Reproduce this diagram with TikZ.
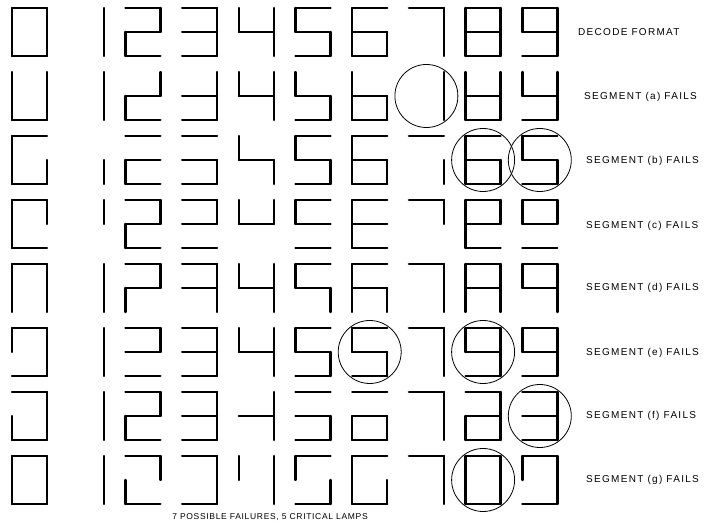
\documentclass[tikz,border=0pt]{standalone}
\usepackage{fontspec}
\setmainfont{Liberation Sans}
\newfontfamily\lblfont[LetterSpace=13]{Liberation Sans}
\newfontfamily\notefont[LetterSpace=8]{Liberation Sans}
\usepackage{tikz}
\usetikzlibrary{positioning}
\tikzset{
  lamp/.style ={line width=2.4pt, line cap=round, line join=round},
  crit/.style ={line width=0.8pt},
  lbl/.style  ={anchor=west, inner sep=0pt, font=\lblfont\fontsize{10}{12}\selectfont},
  note/.style ={inner sep=0pt, font=\notefont\fontsize{8.5}{10}\selectfont},
}
% segment end points in one 35 x 48 cell (a top, b/c right, d bottom, e/f left, g middle)
\def\lampsega{0/0/35/0}
\def\lampsegb{35/0/35/24}
\def\lampsegc{35/24/35/48}
\def\lampsegd{0/48/35/48}
\def\lampsege{0/24/0/48}
\def\lampsegf{0/0/0/24}
\def\lampsegg{0/24/35/24}
\def\drawseg#1/#2/#3/#4\relax{\draw[lamp] (#1,#2) -- (#3,#4);}

\begin{document}
\begin{tikzpicture}[x=1pt, y=-1pt]
  \useasboundingbox (0,0) rectangle (713,526);
  % one row per failing segment, x = no failure
  \foreach \r/\fail in {0/x,1/a,2/b,3/c,4/d,5/e,6/f,7/g}{
    \foreach \d/\segs in {0/{a,b,c,d,e,f}, 1/{b,c}, 2/{a,b,g,e,d}, 3/{a,b,g,c,d},
                          4/{f,g,b,c}, 5/{a,f,g,c,d}, 6/{a,f,g,e,c,d}, 7/{a,b,c},
                          8/{a,b,c,d,e,f,g}, 9/{a,b,c,d,f,g}}{
      \begin{scope}[shift={({12+56.7*\d},{8+64*\r})}]
        \foreach \sg in \segs {\ifx\sg\fail\else
          \expandafter\expandafter\expandafter\drawseg\csname lampseg\sg\endcsname\relax\fi}
      \end{scope}
    }
  }
  % critical lamps
  \foreach \r/\d in {1/7,2/8,2/9,5/6,5/8,6/9,7/8}
    \draw[crit] ({29.5+56.7*\d},{32+64*\r}) circle[radius=31.5pt];

  \node[lbl] (fmt) at (578,32) {DECODE FORMAT};
  \node[lbl] (sa) at (584,97)  {SEGMENT (a) FAILS};
  \node[lbl] (sb) at (586,161) {SEGMENT (b) FAILS};
  \node[lbl] (sc) at (586,226) {SEGMENT (c) FAILS};
  \node[lbl] (sd) at (586,288) {SEGMENT (d) FAILS};
  \node[lbl] (se) at (586,353) {SEGMENT (e) FAILS};
  \node[lbl] (sf) at (586,416) {SEGMENT (f) FAILS};
  \node[lbl] (sg) at (586,480) {SEGMENT (g) FAILS};
  \node[note] (foot) at (270,517) {7 POSSIBLE FAILURES, 5 CRITICAL LAMPS};
\end{tikzpicture}
\end{document}
